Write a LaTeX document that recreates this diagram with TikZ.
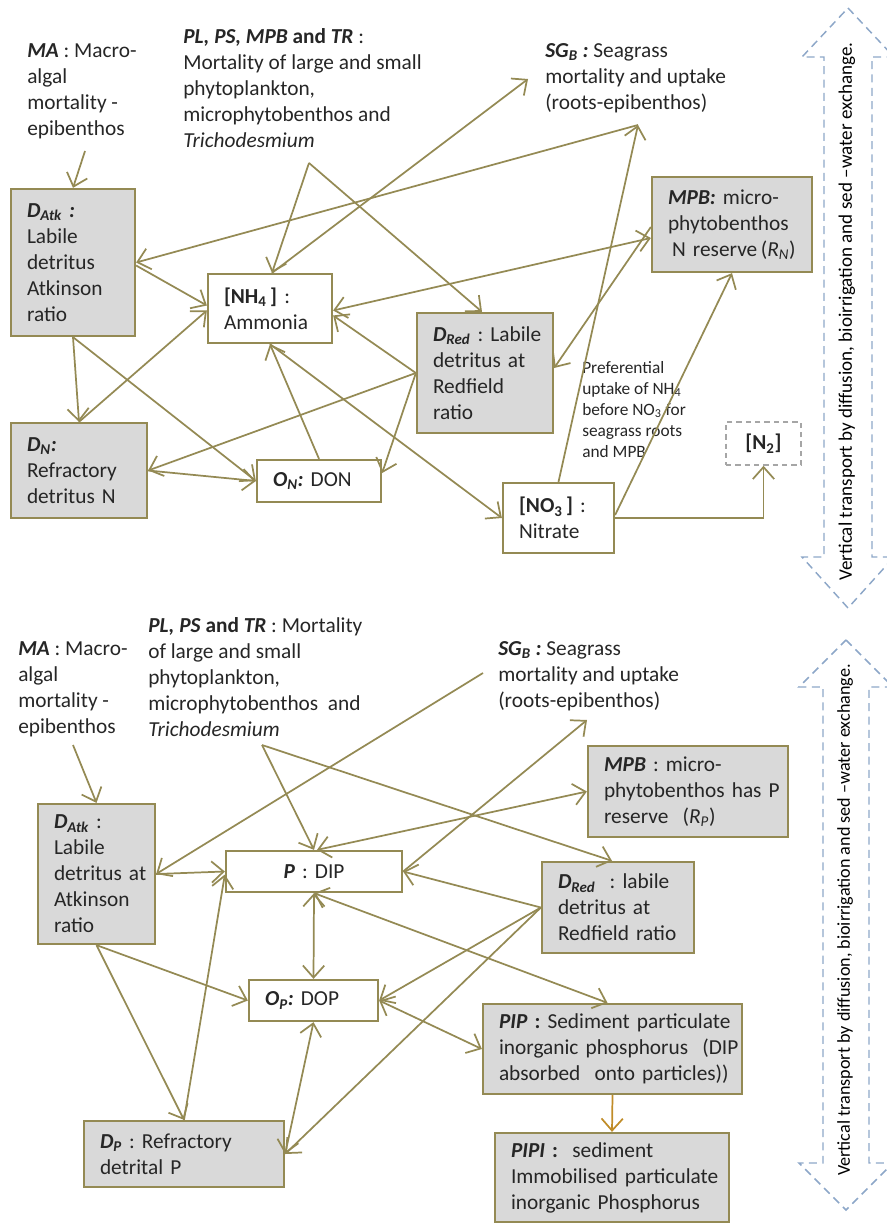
\documentclass[tikz,border=0pt]{standalone}
\usepackage{fontspec}
\setmainfont{Carlito}
\usetikzlibrary{arrows.meta,calc}
\definecolor{olv}{RGB}{148,138,84}
\definecolor{boxg}{RGB}{217,217,217}
\definecolor{txt}{RGB}{38,38,38}
\definecolor{vblue}{RGB}{141,167,200}
\definecolor{ornge}{RGB}{192,140,40}
\definecolor{dgray}{RGB}{166,166,166}
\newcommand{\bix}[1]{\textbf{\textit{#1}}}
\begin{document}
\frenchspacing
\begin{tikzpicture}[x=0.75pt,y=-0.75pt,
 font=\fontsize{16}{19.5}\selectfont\frenchspacing, text=txt,
 box/.style={draw=olv, line width=1.7pt, fill=boxg, rectangle, inner xsep=12pt, inner ysep=0pt, align=left},
 wbox/.style={box, fill=white},
 lbl/.style={anchor=north west, inner sep=0pt, align=left},
 arr/.style={draw=olv, line width=1.3pt, -{Straight Barb[length=9pt,width=16pt]}},
 darr/.style={draw=olv, line width=1.3pt, {Straight Barb[length=9pt,width=16pt]}-{Straight Barb[length=9pt,width=16pt]}},
 oarr/.style={draw=ornge, line width=1.3pt, -{Straight Barb[length=9pt,width=16pt]}},
 vtr/.style={draw=vblue, line width=1.1pt, dash pattern=on 6pt off 4pt},
 vtext/.style={rotate=90, inner sep=0pt, text=black}
]
\useasboundingbox (0,0) rectangle (887,1223);

% ---------------- vertical transport arrows
\draw[vtr] (848,8) -- (894,57) -- (872,57) -- (872,557) -- (894,557) -- (848,608) -- (802,557) -- (824,557) -- (824,57) -- (802,57) -- cycle;
\node[vtext, font=\fontsize{14.3}{17}\selectfont] (vt1) at (847,311.5) {Vertical transport by diffusion, bioirrigation and sed –water exchange.};
\draw[vtr] (846,640) -- (893,687) -- (869,687) -- (869,1163) -- (893,1163) -- (846,1210) -- (799,1163) -- (823,1163) -- (823,687) -- (799,687) -- cycle;
\node[vtext, font=\fontsize{13.6}{16}\selectfont] (vt2) at (845,920) {Vertical transport by diffusion, bioirrigation and sed –water exchange.};

% ================= TOP PANEL =================
\node[lbl] (MAt) at (27,43) {\bix{MA} : Macro-\\algal\\mortality -\\epibenthos};
\node[lbl] (PLt) at (183,28) {\bix{PL, PS, MPB} \textbf{and} \bix{TR} :\\Mortality of large and small\\phytoplankton,\\microphytobenthos and\\\textit{Trichodesmium}};
\node[lbl] (SGt) at (545,43) {\bix{SG\textsubscript{B} :} Seagrass\\mortality and uptake\\(roots-epibenthos)};
\node[lbl, font=\fontsize{13}{15.75}\selectfont] (Pref) at (582,361) {Preferential\\uptake of NH\textsubscript{4}\\before NO\textsubscript{3} for\\seagrass roots\\and MPB};

\node[box, text width=69pt, minimum height=110.25pt] (DAtk) at (73,262.5) {\bix{D\textsubscript{Atk} :}\\Labile\\detritus\\Atkinson\\ratio};
\node[wbox, text width=69pt, minimum height=51.75pt] (NH4) at (270,308.5) {\textbf{[NH\textsubscript{4}\,]} :\\Ammonia};
\node[box, text width=78pt, minimum height=90pt] (DRed) at (485,373) {\mbox{\bix{D\textsubscript{Red}} : Labile}\\detritus at\\Redfield\\ratio};
\node[box, text width=96pt, minimum height=71.25pt] (MPB) at (732,224.5) {\bix{MPB:} micro-\\phytobenthos\\\mbox{\hspace{3pt}N reserve\,(\textit{R\textsubscript{N}})}};
\node[box, text width=78pt, minimum height=71.25pt] (DN) at (79,470.5) {\bix{D\textsubscript{N}:}\\Refractory\\detritus N};
\node[wbox, text width=69pt, minimum height=31.5pt] (ON) at (319,481) {\bix{O\textsubscript{N}:} DON};
\node[wbox, text width=59.25pt, minimum height=52.5pt] (NO3) at (558.5,518) {\textbf{[NO\textsubscript{3}\,]} :\\Nitrate};
\node[draw=dgray, dash pattern=on 4pt off 3pt, line width=1.1pt, minimum width=56.25pt, minimum height=32.25pt, inner sep=0pt] (N2) at (763.5,443.5) {\textbf{[N\textsubscript{2}]}};

\coordinate (maA) at (85,151);
\coordinate (plA) at (309,163);
\coordinate (sgA) at (638,125);
\coordinate (sgB) at (528,79);

\draw[arr] (maA) -- (DAtk.north);
\draw[arr] (plA) -- ($(NH4.north)+(2,0)$);
\draw[arr] (plA) -- ($(DRed.north)+(-3,0)$);
\draw[arr] (sgA) -- (DAtk.east);
\draw[arr] ($(NH4.north)+(2,0)$) -- (sgB);
\draw[arr] (NO3.north) -- (sgA);
\draw[arr] ($(DAtk.east)+(0,3)$) -- ($(NH4.west)+(0,-3)$);
\draw[arr] (DN.north) -- ($(NH4.west)+(0,2)$);
\draw[arr] (DAtk.south) -- (DN.north);
\draw[arr] (DAtk.south) -- (ON.west);
\draw[arr] (DN.east) -- (ON.west);
\draw[arr] (DRed.west) -- (DN.east);
\draw[arr] (ON.north) -- (NH4.south);
\draw[arr] (DRed.west) -- ($(NH4.east)+(0,7)$);
\draw[darr] ($(MPB.west)+(0,13.5)$) -- ($(NH4.east)+(0,2)$);
\draw[arr] ($(MPB.west)+(0,2.5)$) -- ($(DRed.east)+(0,-5)$);
\draw[arr] (DRed.west) -- ($(ON.east)+(0,-8)$);
\draw[arr] (NH4.south) -- (NO3.west);
\draw[arr] (NO3.east) -| (N2.south);
\draw[arr] ($(NO3.east)+(0,-3)$) -- (MPB.south);

% ================= BOTTOM PANEL =================
\node[lbl] (MAt2) at (18,641) {\bix{MA} : Macro-\\algal\\mortality -\\epibenthos};
\node[lbl] (PLt2) at (148,617) {\bix{PL, PS} \textbf{and} \bix{TR} : Mortality\\of large and small\\phytoplankton,\\microphytobenthos~ and\\\textit{Trichodesmium}};
\node[lbl] (SGt2) at (498,641) {\bix{SG\textsubscript{B} :} Seagrass\\mortality and uptake\\(roots-epibenthos)};

\node[box, text width=126pt, minimum height=68.25pt] (MPB2) at (688,791.5) {\bix{MPB} : micro-\\\mbox{phytobenthos has P}\\reserve~ (\textit{R\textsubscript{P}})};
\node[box, text width=90pt, minimum height=68.25pt] (DRed2) at (618,907.5) {\bix{D\textsubscript{Red}}~ : labile\\detritus at\\\mbox{Redfield ratio}};
\node[box, text width=63.75pt, minimum height=105pt] (DAtk2) at (96.5,874) {\bix{D\textsubscript{Atk}} :\\Labile\\\mbox{detritus at}\\Atkinson\\ratio};
\node[wbox, text width=108pt, minimum height=30.75pt, align=center] (P) at (314,871.5) {\bix{P} : DIP};
\node[wbox, text width=72.75pt, minimum height=30.75pt] (OP) at (313.5,1000.5) {\bix{O\textsubscript{P}:} DOP};
\node[box, text width=126pt, minimum height=49.5pt] (DP) at (184,1154) {\bix{D\textsubscript{P}} : Refractory\\detrital P};
\node[box, text width=170.25pt, minimum height=67.5pt] (PIP) at (612.5,1049) {\mbox{\bix{PIP} \textbf{:} Sediment particulate}\\\mbox{inorganic phosphorus~ (DIP}\\\mbox{absorbed~ onto particles))}};
\node[box, text width=151.5pt, minimum height=66.75pt] (PIPI) at (612,1177.5) {\mbox{\bix{PIPI} \textbf{:}~ sediment}\\\mbox{Immobilised particulate}\\\mbox{inorganic Phosphorus}};

\coordinate (maB) at (73,745);
\coordinate (plB) at (262,745);
\coordinate (sgC) at (483,673);
\coordinate (sgD) at (587,720);

\draw[arr] (maB) -- (DAtk2.north);
\draw[arr] (plB) -- (P.north);
\draw[arr] (plB) -- ($(DRed2.north)+(-6,0)$);
\draw[arr] (sgC) -- (DAtk2.east);
\draw[arr] (DAtk2.east) -- (P.west);
\draw[arr] (DAtk2.south) -- (DP.north);
\draw[arr] (DAtk2.south) -- (OP.west);
\draw[arr] (DP.north) -- ($(P.west)+(0,3)$);
\draw[darr] (P.south) -- (OP.north);
\draw[darr] (OP.south) -- (DP.east);
\draw[arr] (DRed2.west) -- (OP.east);
\draw[arr] (DRed2.west) -- (DP.east);
\draw[arr] (DRed2.west) -- (P.east);
\draw[arr] (P.east) -- (sgD);
\draw[darr] ($(P.north)+(3,0)$) -- (MPB2.west);
\draw[darr] (P.south) -- ($(PIP.north)+(-5,0)$);
\draw[darr] (OP.east) -- (PIP.west);
\draw[oarr] (PIP.south) -- (PIPI.north);
\end{tikzpicture}
\end{document}
